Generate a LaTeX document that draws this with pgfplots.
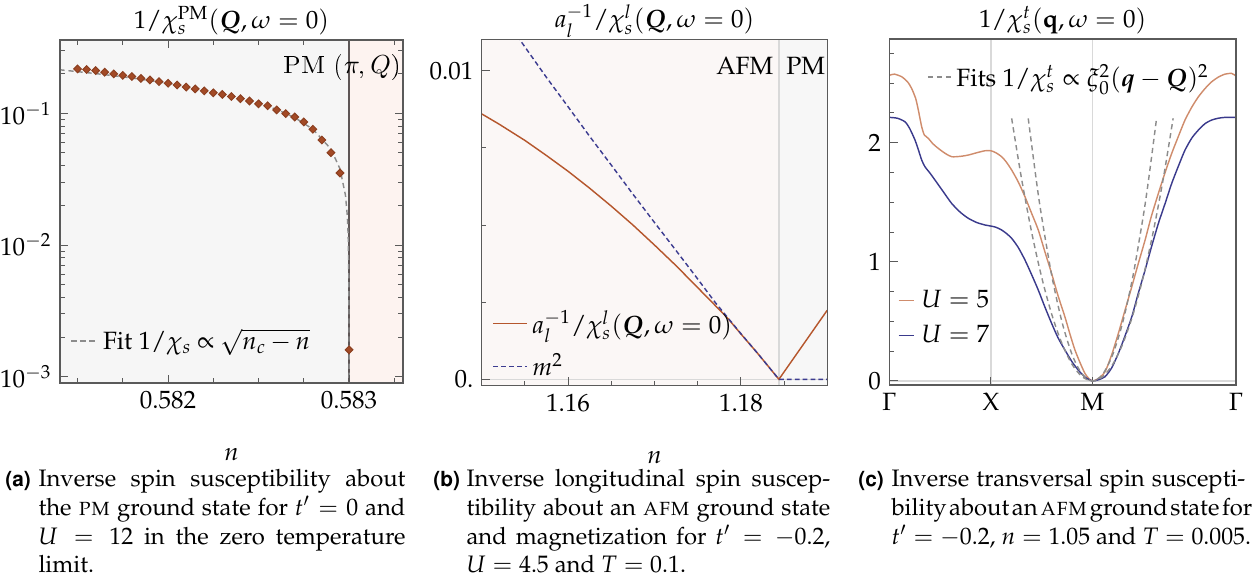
\documentclass[border=0pt]{standalone}
\usepackage[T1]{fontenc}
\usepackage{mathpazo}
\usepackage[scaled=0.92]{helvet}
\usepackage{amsmath}
\usepackage{bm}
\usepackage{pgfplots}
\pgfplotsset{compat=1.18}

\definecolor{bgA}{HTML}{F6F6F6}
\definecolor{bgApm}{HTML}{FDF3F0}
\definecolor{diam}{HTML}{A34A26}
\definecolor{fitgray}{HTML}{8C8C8C}
\definecolor{vlineA}{HTML}{5E5656}
\definecolor{bgBafm}{HTML}{FBF7F6}
\definecolor{bgBpm}{HTML}{F7F7F7}
\definecolor{orB}{HTML}{B5562C}
\definecolor{blB}{HTML}{3C3C90}
\definecolor{refgray}{HTML}{D9D9D9}
\definecolor{orC}{HTML}{CF8C6C}
\definecolor{blC}{HTML}{3A3A8C}
\definecolor{framec}{HTML}{5A5A5A}

\newcommand{\fs}{\fontsize{10.5}{12.6}\selectfont}
\newcommand{\myS}{0.42pt}
\newcommand{\lab}[1]{\makebox[13.9pt][l]{\fontsize{9.5}{12}\selectfont\sffamily\bfseries(#1)}}
\newcommand{\fl}[1]{\hbox to \hsize{#1}}
\newcommand{\il}[1]{\hbox to \hsize{\hskip13.9pt #1}}
\newcommand{\lastl}[1]{\hbox{\hskip13.9pt #1}}

\pgfplotsset{
 myax/.style={scale only axis, anchor=north west,
  axis line style={draw=framec, line width=0.5pt},
  tick style={draw=framec, line width=0.4pt},
  tick align=inside, major tick length=3.5pt, minor tick length=2pt,
  font=\fs, tick label style={font=\fs}, label style={font=\fs},
  title style={font=\fs, at={(0.5,1)}, anchor=base, yshift=4.8pt},
  every axis title shift=0pt,
  scaled ticks=false, axis on top,
  legend style={draw=none, fill=none, font=\fs, inner sep=0pt, outer sep=0pt},
  legend cell align=left},
}

\begin{document}
\begin{tikzpicture}
\path[use as bounding box] (0,0) rectangle ({1255*\myS},{-583*\myS});

% ---------------- panel (a)
\begin{axis}[myax, at={({60*\myS},{-40*\myS})}, width={343*\myS}, height={343*\myS},
 ymode=log, xmin=0.581403, xmax=0.583298, ymin=0.000896, ymax=0.36,
 xtick={0.582,0.583}, xticklabels={0.582,0.583},
 minor xtick={0.5815,0.58175,0.58225,0.5825,0.58275,0.58325},
 ytick={0.001,0.01,0.1}, yticklabels={$10^{-3}$,$10^{-2}$,$10^{-1}$},
 minor ytick={0.002,0.003,0.004,0.005,0.006,0.007,0.008,0.009,0.02,0.03,0.04,0.05,0.06,0.07,0.08,0.09,0.2,0.3},
 title={$1/\chi_s^{\mathrm{PM}}(\bm{Q},\omega=0)$},
 xlabel={$n$}, xlabel style={yshift=-9.5pt},
 legend style={at={(rel axis cs:0.031,0.123)},anchor=west},
 legend image code/.code={\draw[#1] (0pt,0pt) -- (11pt,0pt);}]
\fill[bgA] (axis cs:0.581403,0.000896) rectangle (axis cs:0.583,0.36);
\fill[bgApm] (axis cs:0.583,0.000896) rectangle (axis cs:0.583298,0.36);
\draw[vlineA, line width=0.6pt] (axis cs:0.583,0.000896) -- (axis cs:0.583,0.36);
\addplot[fitgray, line width=0.6pt, dash pattern=on 2.2pt off 1.6pt] coordinates {
(0.5814,0.214) (0.5816,0.2002) (0.5818,0.1853) (0.5820,0.1692) (0.5822,0.1513)
(0.5824,0.1310) (0.5826,0.1070) (0.5827,0.0927) (0.5828,0.0757) (0.5829,0.0535)
(0.58295,0.0378) (0.58298,0.0239) (0.58299,0.0169) (0.582995,0.01196)
(0.582999,0.00535) (0.5829998,0.00239) (0.58299995,0.0012) (0.58299999,0.0005)};
\addlegendentry{Fit $1/\chi_s \mskip4mu{\propto}\mskip4mu \sqrt{n_c \mskip3mu{-}\mskip3mu n}$}
\addplot[only marks, mark=square*, mark size=1.15pt, mark options={rotate=45, fill=diam, draw=diam!85!black}, forget plot] coordinates {
(0.58150,0.217) (0.58155,0.215) (0.58160,0.211) (0.58165,0.205) (0.58170,0.199)
(0.58175,0.194) (0.58180,0.190) (0.58185,0.184) (0.58190,0.179) (0.58195,0.174)
(0.58200,0.169) (0.58205,0.164) (0.58210,0.158) (0.58215,0.153) (0.58220,0.148)
(0.58225,0.143) (0.58230,0.139) (0.58235,0.134) (0.58240,0.129) (0.58245,0.124)
(0.58250,0.118) (0.58255,0.114) (0.58260,0.106) (0.58265,0.0994) (0.58270,0.0937)
(0.58275,0.0859) (0.58280,0.0756) (0.58285,0.0627) (0.58290,0.0502) (0.58295,0.0352)
(0.58300,0.0016)};
\node[anchor=base east, inner sep=0pt] at (rel axis cs:0.996,0.901)
 {\fontsize{10.5}{12}\fontfamily{lmr}\selectfont PM ({\usefont{OML}{cmm}{m}{it}\char"19},\,{\usefont{OML}{cmm}{m}{it}Q})};
\end{axis}

% ---------------- panel (b)
\begin{axis}[myax, at={({481.7*\myS},{-39.3*\myS})}, width={345.6*\myS}, height={346.4*\myS},
 xmin=1.15, xmax=1.19, ymin=-0.000207, ymax=0.011017,
 xtick={1.16,1.18}, xticklabels={1.16,1.18},
 minor xtick={1.155,1.165,1.17,1.175,1.185},
 ytick={0,0.01}, yticklabels={0.,0.01}, minor ytick={0.0025,0.005,0.0075},
 xtick pos=bottom, ytick pos=left,
 title={$a_l^{-1}/\chi_s^l(\bm{Q},\omega=0)$},
 xlabel={$n$}, xlabel style={yshift=-9.5pt},
 legend style={at={(rel axis cs:0.032,0.119)},anchor=west, row sep=3pt},
 legend image code/.code={\draw[#1] (0pt,0pt) -- (14pt,0pt);}]
\fill[bgBafm] (axis cs:1.15,-0.000207) rectangle (axis cs:1.1844,0.011017);
\fill[bgBpm] (axis cs:1.1844,-0.000207) rectangle (axis cs:1.19,0.011017);
\draw[refgray, line width=0.6pt] (axis cs:1.1844,-0.000207) -- (axis cs:1.1844,0.011017);
\draw[refgray, line width=0.6pt] (axis cs:1.15,0) -- (axis cs:1.19,0);
\addplot[orB, line width=0.6pt] coordinates {
(1.150,0.00860) (1.152,0.00827) (1.155,0.00774) (1.1575,0.00725) (1.160,0.00674)
(1.1625,0.00619) (1.165,0.00561) (1.1675,0.00500) (1.170,0.00435) (1.1725,0.00368)
(1.175,0.00297) (1.177,0.00240) (1.1785,0.00197) (1.180,0.00147) (1.182,0.00082)
(1.1844,0) (1.190,0.00224)};
\addlegendentry{$a_l^{-1}/\chi_s^l(\bm{Q},\omega=0)$}
\addplot[blB, line width=0.6pt, dash pattern=on 2pt off 1.3pt] coordinates {
(1.152,0.01196) (1.155,0.01077) (1.1575,0.00978) (1.160,0.00883) (1.1625,0.00787)
(1.165,0.00694) (1.1675,0.00600) (1.170,0.00508) (1.1725,0.00417) (1.175,0.00325)
(1.177,0.00250) (1.1785,0.00199) (1.180,0.00148) (1.182,0.00082) (1.1844,0) (1.190,0)};
\addlegendentry{$m^2$}
\node[anchor=base east, inner sep=0pt] at (axis cs:1.1838,0.00986) {AFM};
\node[anchor=base west, inner sep=0pt] at (axis cs:1.1852,0.00986) {PM};
\end{axis}

% ---------------- panel (c)
\begin{axis}[myax, at={({889.3*\myS},{-39*\myS})}, width={346.7*\myS}, height={346*\myS},
 xmin=0, xmax=3.41421, ymin=-0.034, ymax=2.87,
 xtick={0,1,2,3.41421}, xticklabels={$\Gamma$,X,M,$\Gamma$},
 ytick={0,1,2}, minor ytick={0.25,0.5,0.75,1.25,1.5,1.75,2.25,2.5,2.75},
 xtick pos=bottom, ytick pos=left,
 title={$1/\chi_s^t(\mathbf{q},\omega=0)$},
 legend style={at={(rel axis cs:0.025,0.194)},anchor=west, row sep=2pt},
 legend image code/.code={\draw[#1] (0pt,0pt) -- (6.5pt,0pt);\path (7.3pt,0pt);}]
\draw[refgray, line width=0.6pt] (axis cs:1,-0.034) -- (axis cs:1,2.87);
\draw[refgray, line width=0.6pt] (axis cs:2,-0.034) -- (axis cs:2,2.87);
\draw[refgray, line width=0.6pt] (axis cs:0,0) -- (axis cs:3.41421,0);
\addplot[orC, line width=0.6pt, smooth, tension=0.4] coordinates {
(0,2.565) (0.05,2.575) (0.122,2.553) (0.18,2.51) (0.22,2.455) (0.26,2.37) (0.286,2.273)
(0.305,2.19) (0.319,2.133) (0.335,2.085) (0.345,2.064) (0.384,2.036) (0.43,1.99)
(0.482,1.952) (0.55,1.91) (0.614,1.882) (0.7,1.885) (0.778,1.896) (0.86,1.915)
(0.942,1.932) (1.0,1.932) (1.05,1.915) (1.106,1.882) (1.15,1.84) (1.205,1.770)
(1.27,1.67) (1.336,1.546) (1.40,1.41) (1.467,1.267) (1.53,1.09) (1.598,0.903)
(1.66,0.72) (1.729,0.539) (1.78,0.39) (1.828,0.26) (1.88,0.15) (1.926,0.064)
(1.96,0.025) (2.0,0) (2.06,0.02) (2.125,0.078) (2.19,0.22) (2.256,0.4) (2.32,0.59)
(2.388,0.791) (2.45,0.98) (2.519,1.183) (2.58,1.38) (2.65,1.575) (2.72,1.76)
(2.781,1.91) (2.85,2.06) (2.912,2.19) (2.98,2.30) (3.044,2.385) (3.11,2.455)
(3.175,2.511) (3.24,2.55) (3.306,2.575) (3.372,2.581) (3.414,2.559)};
\addlegendentry{$U = 5$}
\addplot[blC, line width=0.6pt, smooth, tension=0.4] coordinates {
(0,2.212) (0.08,2.205) (0.155,2.175) (0.2,2.12) (0.253,2.022) (0.29,1.93) (0.319,1.854)
(0.351,1.798) (0.4,1.745) (0.45,1.686) (0.53,1.59) (0.614,1.49) (0.7,1.415)
(0.778,1.365) (0.86,1.33) (0.942,1.309) (1.0,1.30) (1.05,1.29) (1.106,1.267)
(1.15,1.24) (1.205,1.197) (1.27,1.12) (1.336,1.015) (1.40,0.895) (1.467,0.763)
(1.53,0.625) (1.598,0.484) (1.66,0.365) (1.729,0.26) (1.8,0.16) (1.86,0.092)
(1.93,0.03) (2.0,0) (2.06,0.01) (2.125,0.036) (2.19,0.11) (2.256,0.232) (2.32,0.375)
(2.388,0.539) (2.45,0.73) (2.519,0.931) (2.58,1.12) (2.65,1.323) (2.72,1.5)
(2.781,1.658) (2.85,1.81) (2.912,1.938) (2.98,2.04) (3.044,2.106) (3.11,2.16)
(3.175,2.19) (3.24,2.205) (3.306,2.212) (3.414,2.212)};
\addlegendentry{$U = 7$}
\end{axis}
\begin{axis}[myax, at={({889.3*\myS},{-39*\myS})}, width={346.7*\myS}, height={346*\myS},
 xmin=0, xmax=3.41421, ymin=-0.034, ymax=2.87, hide axis,
 legend style={at={(rel axis cs:0.109,0.89)},anchor=west},
 legend image code/.code={\draw[#1] (0pt,0pt) -- (9.7pt,0pt);}]
\addplot[fitgray, line width=0.6pt, dash pattern=on 2.2pt off 1.6pt, smooth] coordinates {
(1.205,2.204) (1.3,1.709) (1.4,1.255) (1.5,0.872) (1.6,0.558) (1.7,0.314) (1.8,0.139)
(1.9,0.035) (2.0,0) (2.1,0.035) (2.2,0.139) (2.3,0.314) (2.4,0.558) (2.5,0.872)
(2.6,1.255) (2.7,1.709) (2.795,2.204)};
\addlegendentry{Fits $1/\chi_s^t \propto \xi_0^2(\bm{q}-\bm{Q})^2$}
\addplot[fitgray, line width=0.6pt, dash pattern=on 2.2pt off 1.6pt, smooth, forget plot] coordinates {
(1.368,2.204) (1.45,1.669) (1.5,1.380) (1.6,0.883) (1.7,0.497) (1.8,0.221) (1.9,0.055)
(2.0,0) (2.1,0.055) (2.2,0.221) (2.3,0.497) (2.4,0.883) (2.5,1.380) (2.55,1.669)
(2.632,2.204)};
\end{axis}

% ---------------- captions
\node[anchor=base west, inner sep=0pt] at ({5*\myS},{-487*\myS}) {\vtop{\hsize=168pt\fontsize{10}{12}\selectfont
 \fl{\lab{a}Inverse spin susceptibility about}
 \il{the \textsc{pm} ground state for $t' = 0$ and}
 \il{$U = 12$ in the zero temperature}
 \lastl{limit.}}};
\node[anchor=base west, inner sep=0pt] at ({433*\myS},{-487*\myS}) {\vtop{\hsize=166.7pt\fontsize{10}{12}\selectfont
 \fl{\lab{b}Inverse longitudinal spin suscep-}
 \il{tibility about an \textsc{afm} ground state}
 \il{and magnetization for $t' = -0.2$,}
 \lastl{$U = 4.5$ and $T = 0.1$.}}};
\node[anchor=base west, inner sep=0pt] at ({858*\myS},{-487*\myS}) {\vtop{\hsize=162.5pt\fontsize{10}{12}\selectfont
 \fl{\lab{c}Inverse transversal spin suscepti-}
 \il{\spaceskip=1.6pt plus 1pt minus 0.5pt bility about an \textsc{afm} ground state for}
 \lastl{$t' = -0.2$, $n = 1.05$ and $T = 0.005$.}}};
\end{tikzpicture}
\end{document}
